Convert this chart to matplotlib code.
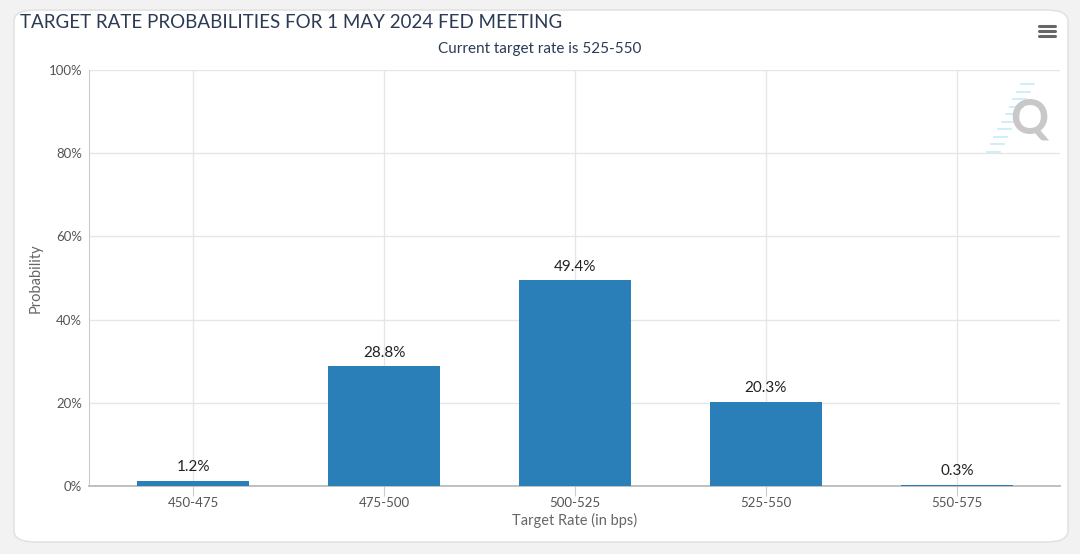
import matplotlib.pyplot as plt
from matplotlib.patches import FancyBboxPatch
from matplotlib.lines import Line2D

# data
categories = ['450-475', '475-500', '500-525', '525-550', '550-575']
probabilities = [1.2, 28.8, 49.4, 20.3, 0.3]
labels = ['1.2%', '28.8%', '49.4%', '20.3%', '0.3%']
yticks = [0, 20, 40, 60, 80, 100]

plt.rcParams['font.family'] = ['Lato', 'DejaVu Sans']

fig = plt.figure(figsize=(10.8, 5.54), dpi=100)
fig.patch.set_facecolor('#f2f2f2')

# card background with rounded corners
card = FancyBboxPatch((14 / 1080, 12 / 554), 1054 / 1080, 532 / 554,
                      boxstyle='round,pad=0,rounding_size=0.02',
                      transform=fig.transFigure, facecolor='white',
                      edgecolor='#e3e3e3', linewidth=1.2, zorder=-5)
fig.patches.append(card)

ax = fig.add_axes([89 / 1080, 1 - 486 / 554, (1060 - 89) / 1080, (486 - 70) / 554])
ax.set_zorder(2)
ax.set_facecolor('none')

x = range(len(categories))
ax.bar(x, probabilities, width=0.59, color='#2a7fb8', zorder=3)
for i, (v, t) in enumerate(zip(probabilities, labels)):
    ax.text(i, v + 1.6, t, ha='center', va='bottom', fontsize=11, color='#222222', zorder=4)

ax.set_xlim(-0.545, 4.54)
ax.set_ylim(0, 100)
ax.set_yticks(yticks)
ax.set_yticklabels([f'{t}%' for t in yticks], fontsize=9.5, color='#555555')
ax.set_xticks(list(x))
ax.set_xticklabels(categories, fontsize=9.5, color='#555555')
ax.grid(True, color='#e6e6e6', linewidth=1, zorder=0)
ax.set_axisbelow(True)
ax.tick_params(axis='y', length=0, pad=5)
ax.tick_params(axis='x', length=7, color='#cccccc', pad=1)
for s in ['top', 'right']:
    ax.spines[s].set_visible(False)
ax.spines['left'].set_color('#cccccc')
ax.spines['bottom'].set_color('#bbbbbb')
ax.spines['bottom'].set_linewidth(1.3)

ax.set_xlabel('Target Rate (in bps)', fontsize=10.5, color='#666666', labelpad=3)
ax.set_ylabel('Probability', fontsize=10.5, color='#666666', labelpad=4)

fig.text(20 / 1080, 1 - 22 / 554, 'TARGET RATE PROBABILITIES FOR 1 MAY 2024 FED MEETING',
         fontsize=13.5, color='#2b3a55', va='center', ha='left')
fig.text(540 / 1080, 1 - 49 / 554, 'Current target rate is 525-550',
         fontsize=11, color='#2b3a55', va='center', ha='center')

# watermark Q with light blue stripes
for k in range(10):
    ypx = 84 + k * 7.5
    xr = 1034 - k * 3.8
    fig.add_artist(Line2D([(xr - 13) / 1080, xr / 1080], [1 - ypx / 554, 1 - ypx / 554],
                          color='#c9eefa', linewidth=1.3, zorder=1))
fig.text(1029 / 1080, 1 - 120 / 554, 'Q', fontsize=34, fontweight='bold',
         color='#c8c8c8', ha='center', va='center', zorder=2)

# menu icon
for k in range(3):
    yy = 1 - (26 + k * 5) / 554
    fig.add_artist(Line2D([1039 / 1080, 1055 / 1080], [yy, yy], color='#666666',
                          linewidth=2.2, solid_capstyle='round'))

fig.savefig('out.png', dpi=100, facecolor=fig.get_facecolor())
